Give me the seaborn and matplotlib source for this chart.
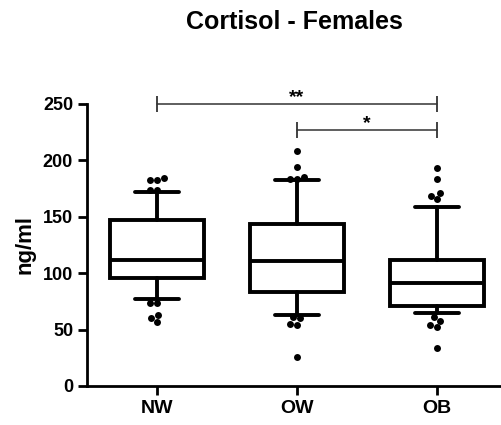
import matplotlib
matplotlib.use("Agg")
import matplotlib.pyplot as plt
import seaborn as sns
import pandas as pd

groups = ["NW", "OW", "OB"]
whisker_low = [76.8, 63.2, 64.4]
q1 = [95.5, 83.6, 70.9]
median = [111.7, 110.8, 91.6]
q3 = [147.2, 143.6, 111.7]
whisker_high = [171.7, 182.6, 159.0]
outliers_nw = [183.0, 182.5, 184.3, 174.0, 174.0, 74.0, 74.0, 63.0, 60.3, 56.5]
outliers_ow = [208.3, 193.9, 185.7, 183.6, 183.6, 61.5, 60.0, 55.4, 54.5, 26.0]
outliers_ob = [193.3, 183.2, 171.3, 168.7, 165.5, 60.9, 57.6, 54.0, 52.0, 34.0]
comparisons = [("NW", "OB", "**", 250.0), ("OW", "OB", "*", 227.0)]
title = "Cortisol - Females"
ylabel = "ng/ml"
yticks = [0, 50, 100, 150, 200, 250]

sns.set_style("ticks")
plt.rcParams["font.family"] = ["Liberation Sans", "DejaVu Sans"]
plt.rcParams["font.weight"] = "bold"
plt.rcParams["text.color"] = "black"
plt.rcParams["axes.labelcolor"] = "black"
plt.rcParams["xtick.color"] = "black"
plt.rcParams["ytick.color"] = "black"

fig = plt.figure(figsize=(5.02, 4.25), dpi=100)
ax = fig.add_axes([87 / 502, 1 - 386 / 425, (501.5 - 87) / 502, (386 - 104) / 425])

stats = []
for i, g in enumerate(groups):
    stats.append(dict(label=g, whislo=whisker_low[i], q1=q1[i], med=median[i],
                      q3=q3[i], whishi=whisker_high[i], fliers=[]))
lw = 2.8
ax.bxp(stats, positions=range(len(groups)), widths=0.67, capwidths=0.32,
       showfliers=False, patch_artist=True,
       boxprops=dict(facecolor="white", edgecolor="black", linewidth=lw),
       medianprops=dict(color="black", linewidth=lw),
       whiskerprops=dict(color="black", linewidth=lw),
       capprops=dict(color="black", linewidth=lw))

out_df = pd.DataFrame({
    "group": ["NW"] * len(outliers_nw) + ["OW"] * len(outliers_ow) + ["OB"] * len(outliers_ob),
    "value": outliers_nw + outliers_ow + outliers_ob,
})
sns.swarmplot(data=out_df, x="group", y="value", order=groups, color="black",
              size=5, ax=ax, zorder=3)

pos = {g: i for i, g in enumerate(groups)}
for a, b, star, yv in comparisons:
    ax.plot([pos[a], pos[b]], [yv, yv], color="#333333", linewidth=1.1, clip_on=False)
    ax.plot([pos[a], pos[b]], [yv, yv], linestyle="none", marker="|", markersize=11,
            markeredgewidth=1.3, color="#333333", clip_on=False)
    ax.text((pos[a] + pos[b]) / 2, yv + 6, star, ha="center", va="center",
            fontsize=14, fontweight="bold", clip_on=False)

ax.set_xlim(-0.5, 2.46)
ax.set_ylim(0, 250)
ax.set_yticks(yticks)
ax.set_xticks(range(len(groups)))
ax.set_xticklabels(groups)
ax.set_xlabel("")
ax.set_ylabel(ylabel, fontsize=16, fontweight="bold", labelpad=5)
ax.set_title(title, fontsize=18, fontweight="bold", pad=54)
for s in ["top", "right"]:
    ax.spines[s].set_visible(False)
for s in ["left", "bottom"]:
    ax.spines[s].set_linewidth(2.0)
    ax.spines[s].set_color("black")
ax.tick_params(axis="both", length=6.5, width=2.0, color="black")
ax.tick_params(axis="x", labelsize=14)
ax.tick_params(axis="y", labelsize=13)
for lab in ax.get_xticklabels() + ax.get_yticklabels():
    lab.set_fontweight("bold")

fig.savefig("out.png", dpi=100)
